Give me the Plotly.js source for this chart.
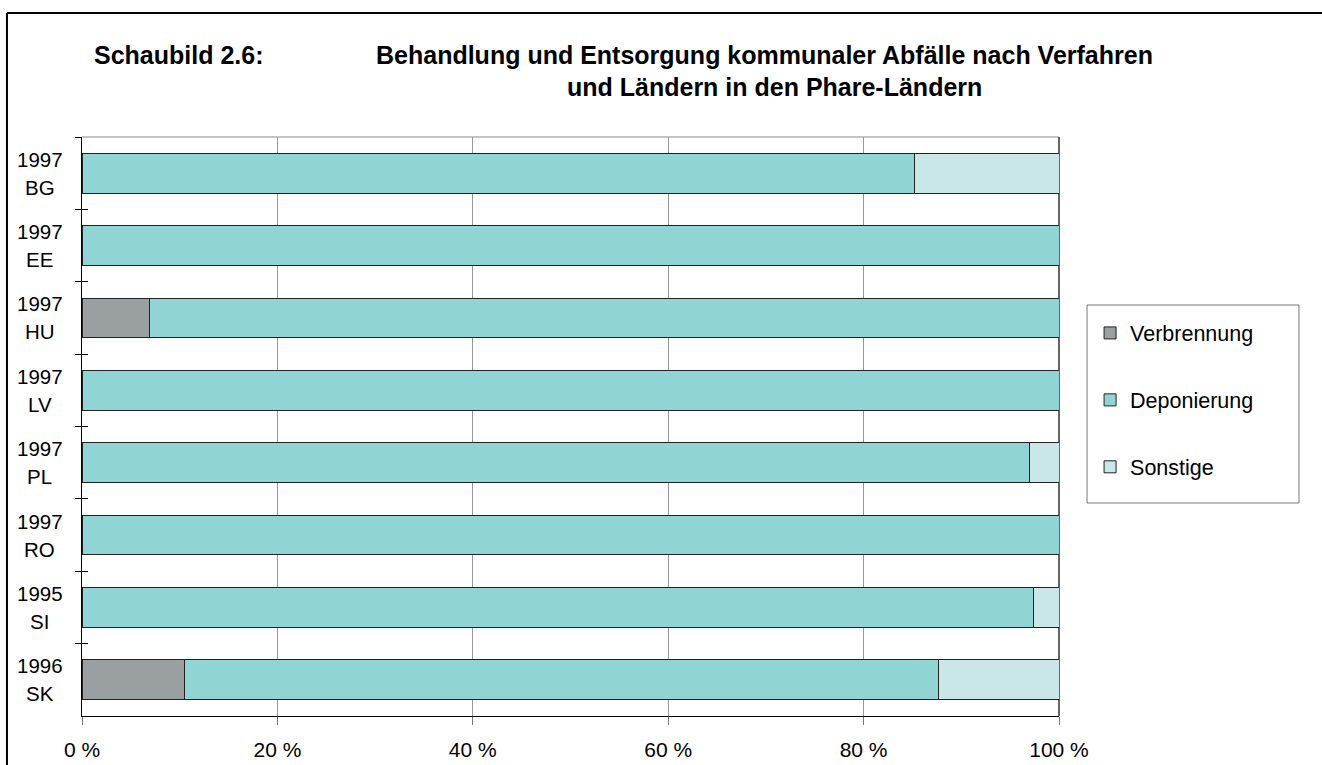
<!DOCTYPE html>
<html>
<head>
<meta charset="utf-8">
<script src="https://cdn.plot.ly/plotly-3.0.1.min.js"></script>
<style>html,body{margin:0;padding:0;background:#fff;}#chart{width:1322px;height:765px;}</style>
</head>
<body>
<div id="chart"></div>
<script>
const years = ['1997','1997','1997','1997','1997','1997','1995','1996'];
const countries = ['BG','EE','HU','LV','PL','RO','SI','SK'];
const verbrennung = [0, 0, 6.9, 0, 0, 0, 0, 10.5];
const deponierung = [85.2, 100, 93.1, 100, 97.0, 100, 97.4, 77.2];
const sonstige = [14.8, 0, 0, 0, 3.0, 0, 2.6, 12.3];
const seriesNames = ['Verbrennung', 'Deponierung', 'Sonstige'];
const seriesColors = ['#9a9fa1', '#90d4d3', '#c9e7e6'];
const xTickVals = [0, 20, 40, 60, 80, 100];
const xTickText = ['0 %', '20 %', '40 %', '60 %', '80 %', '100 %'];
const titleLeft = 'Schaubild 2.6:';
const titleLine1 = 'Behandlung und Entsorgung kommunaler Abfälle nach Verfahren';
const titleLine2 = 'und Ländern in den Phare-Ländern';

const FONT = 'Liberation Sans, Arial, sans-serif';
const seriesValues = [verbrennung, deponierung, sonstige];

const traces = seriesNames.map((name, i) => ({
  type: 'bar', orientation: 'h', name: name,
  x: seriesValues[i], y: countries,
  legendgroup: name,
  marker: {color: seriesColors[i], line: {color: '#222', width: 1}},
  width: 0.55,
  hoverinfo: 'x+name'
}));
// helper trace for crossing tick marks on the category axis
traces.push({type: 'scatter', mode: 'none', x: countries.map(() => null), y: countries, yaxis: 'y2', showlegend: false, hoverinfo: 'skip'});

const annotations = [];
countries.forEach((c, i) => {
  annotations.push({xref: 'paper', yref: 'y', x: -0.043, y: c, text: years[i], showarrow: false, xanchor: 'center', yanchor: 'middle', yshift: 14, font: {family: FONT, size: 20.5, color: '#000'}});
  annotations.push({xref: 'paper', yref: 'y', x: -0.043, y: c, text: c, showarrow: false, xanchor: 'center', yanchor: 'middle', yshift: -14, font: {family: FONT, size: 20.5, color: '#000'}});
});
annotations.push({xref: 'paper', yref: 'paper', x: 0.0102, y: 1.1416, text: '<b>' + titleLeft + '</b>', showarrow: false, xanchor: 'left', yanchor: 'middle', font: {family: FONT, size: 25, color: '#000'}});
annotations.push({xref: 'paper', yref: 'paper', x: 0.699, y: 1.1416, text: '<b>' + titleLine1 + '</b>', showarrow: false, xanchor: 'center', yanchor: 'middle', font: {family: FONT, size: 25, color: '#000'}});
annotations.push({xref: 'paper', yref: 'paper', x: 0.709, y: 1.0864, text: '<b>' + titleLine2 + '</b>', showarrow: false, xanchor: 'center', yanchor: 'middle', font: {family: FONT, size: 25, color: '#000'}});

const shapes = [
  // outer frame (top and left)
  {type: 'line', xref: 'paper', yref: 'paper', x0: -0.0768, x1: 1.30, y0: 1.2142, y1: 1.2142, line: {color: '#000', width: 2}},
  {type: 'line', xref: 'paper', yref: 'paper', x0: -0.0768, x1: -0.0768, y0: 1.2142, y1: -0.2, line: {color: '#000', width: 2}},
  // plot frame top and right
  {type: 'line', xref: 'paper', yref: 'paper', x0: 0, x1: 1, y0: 1, y1: 1, line: {color: '#888', width: 1}, layer: 'below'},
  {type: 'line', xref: 'paper', yref: 'paper', x0: 1, x1: 1, y0: 0, y1: 1, line: {color: '#666', width: 2}, layer: 'below'},
  // legend box
  {type: 'rect', xref: 'paper', yref: 'paper', x0: 1.0287, x1: 1.2456, y0: 0.3679, y1: 0.7098, line: {color: '#777', width: 1}, fillcolor: 'rgba(0,0,0,0)'}
];

const layout = {
  width: 1322, height: 765,
  margin: {l: 82, r: 263, t: 137, b: 49},
  paper_bgcolor: '#fff', plot_bgcolor: '#fff',
  barmode: 'stack', bargap: 0.45,
  font: {family: FONT, size: 20, color: '#000'},
  showlegend: true,
  legend: {x: 1.0318, y: 0.697, xanchor: 'left', yanchor: 'top', traceorder: 'grouped', tracegroupgap: 36,
           font: {family: FONT, size: 21.5, color: '#000'}, borderwidth: 0, bgcolor: 'rgba(0,0,0,0)'},
  xaxis: {range: [0, 100], tickvals: xTickVals, ticktext: xTickText, showgrid: true, gridcolor: '#999', gridwidth: 1,
          zeroline: false, showline: true, linecolor: '#000', linewidth: 1, ticks: 'outside', ticklen: 8, tickcolor: '#777',
          ticklabelstandoff: 7, tickfont: {family: FONT, size: 21, color: '#000'}, fixedrange: true},
  yaxis: {type: 'category', categoryarray: countries, categoryorder: 'array', range: [7.5, -0.5],
          showticklabels: false, ticks: 'outside', tickson: 'boundaries', ticklen: 6, tickcolor: '#000',
          showgrid: false, zeroline: false, showline: true, linecolor: '#000', linewidth: 1, fixedrange: true},
  yaxis2: {type: 'category', categoryarray: countries, categoryorder: 'array', range: [7.5, -0.5], overlaying: 'y', side: 'left',
           showticklabels: false, ticks: 'inside', tickson: 'boundaries', ticklen: 6, tickcolor: '#000',
           showgrid: false, zeroline: false, showline: false, fixedrange: true},
  annotations: annotations,
  shapes: shapes
};

Plotly.newPlot('chart', traces, layout, {displayModeBar: false, staticPlot: false});
</script>
</body>
</html>
